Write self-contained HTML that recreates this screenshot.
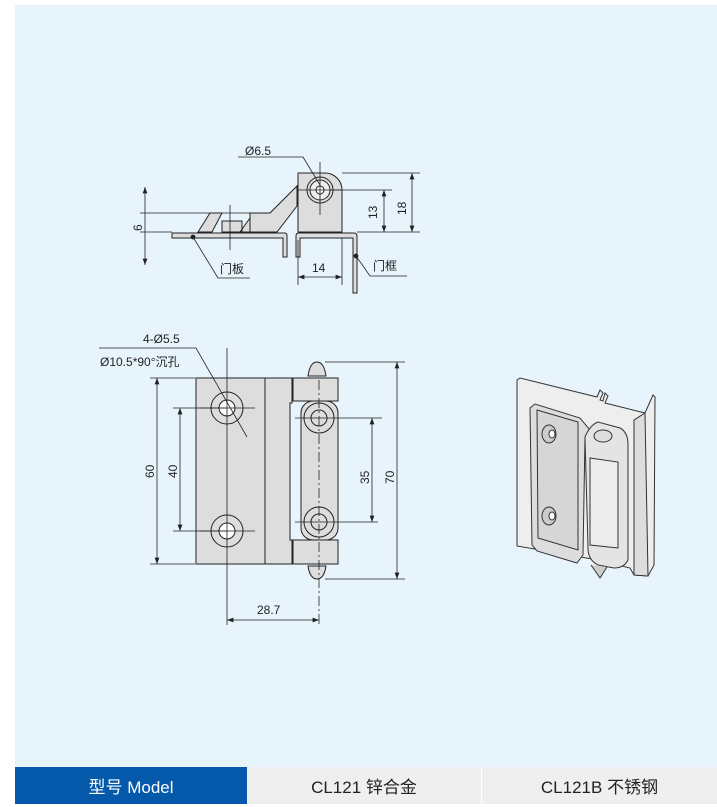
<!DOCTYPE html>
<html><head><meta charset="utf-8"><style>
body{margin:0;width:717px;height:807px;background:#fff;overflow:hidden;font-family:"Liberation Sans","Noto Sans CJK SC",sans-serif}
.bg{position:absolute;left:15px;top:5px;width:702px;height:762px;background:#e8f4fc}
.row{position:absolute;top:767px;height:37px;display:flex;align-items:center;justify-content:center;font-size:17px}
svg{position:absolute;left:0;top:0}
</style></head><body>
<div class="bg"></div>
<svg width="717" height="807" viewBox="0 0 717 807" font-family="Liberation Sans, Noto Sans CJK SC, sans-serif" font-size="12">
<defs><marker id="a" markerWidth="8" markerHeight="6" refX="8" refY="3" orient="auto-start-reverse"><path d="M0,0 L8,3 L0,6z" fill="#222"/></marker></defs>
<g stroke="#222" stroke-width="1" fill="#ddd">
<path d="M172,233 H285 Q287,233 287,236 V257 H283 V238 H172z"/>
<path d="M296,257 V236 Q296,233 299,233 H354 Q357,233 357,236 V293 H353 V238 H300 V257z"/>
<path d="M298,232 V173 H325 A17,17 0 0 1 342,190 V232z"/>
<path d="M270,213 L297,186 V206 L277,232 H250 V213z"/>
<path d="M198,232 L210,213 H222 L212,232z M222,221 H242 V232 H222z M240,232 L250,218 V232z" />
<circle cx="320" cy="190" r="13" fill="#ddd"/><circle cx="320" cy="190" r="10" fill="#eee"/><circle cx="320" cy="190" r="4" fill="#fff"/>
</g>
<g stroke="#222" stroke-width="0.8" fill="none">
<path d="M320,162 V215 M297,190 H343 M230,205 V250"/>
<path d="M145,187 V265" marker-start="url(#a)" marker-end="url(#a)"/>
<path d="M140,213 H260 M140,232 H172"/>
<path d="M342,173 H420 M330,190 H392 M357,232 H420"/>
<path d="M384,190 V232" marker-start="url(#a)" marker-end="url(#a)"/>
<path d="M412,173 V232" marker-start="url(#a)" marker-end="url(#a)"/>
<path d="M298,240 V285 M342,238 V285"/>
<path d="M298,277 H342" marker-start="url(#a)" marker-end="url(#a)"/>
<path d="M238,157 H303 L320,185"/>
<path d="M193,237 L218,278 H250 M356,256 L370,276 H407"/>
<circle cx="193" cy="237" r="2" fill="#222"/><circle cx="356" cy="256" r="2" fill="#222"/>
</g>
<g fill="#222">
<text x="245" y="155">Ø6.5</text>
<text x="220" y="273">门板</text>
<text x="373" y="270">门框</text>
<text x="312" y="272">14</text>
<text transform="translate(377,219) rotate(-90)">13</text>
<text transform="translate(406,215) rotate(-90)">18</text>
<text transform="translate(142,231) rotate(-90)">6</text>
</g>
<g stroke="#222" stroke-width="1" fill="#ddd">
<rect x="196" y="378" width="69" height="186"/>
<path d="M265,378 H292 V403 H290 V540 H292 V564 H265z"/>
<rect x="301" y="401" width="37" height="139" rx="12"/>
<path d="M293,378 H338 V401 H293z M293,540 H338 V564 H293z"/>
<path d="M308,376 Q310,362 317,362 Q324,362 326,376z M308,566 Q310,579 317,579 Q324,579 326,566z"/>
<circle cx="227" cy="408" r="16"/><circle cx="227" cy="408" r="8" fill="#fff"/>
<circle cx="227" cy="531" r="16"/><circle cx="227" cy="531" r="8" fill="#fff"/>
<circle cx="319" cy="418" r="15"/><circle cx="319" cy="418" r="8" fill="#ddd"/>
<circle cx="319" cy="522" r="15"/><circle cx="319" cy="522" r="8" fill="#ddd"/>
</g>
<g stroke="#222" stroke-width="0.8" fill="none">
<path d="M227,348 V625 M200,408 H255 M200,531 H255"/>
<path d="M319,380 V625" stroke-dasharray="10,3,2,3"/>
<path d="M295,418 H382 M295,522 H378"/>
<path d="M150,378 H195 M150,564 H195 M173,408 H227 M173,531 H227 M325,362 H405 M325,579 H405"/>
<path d="M157,378 V564" marker-start="url(#a)" marker-end="url(#a)"/>
<path d="M180,408 V531" marker-start="url(#a)" marker-end="url(#a)"/>
<path d="M372,418 V522" marker-start="url(#a)" marker-end="url(#a)"/>
<path d="M397,362 V579" marker-start="url(#a)" marker-end="url(#a)"/>
<path d="M227,620 H319" marker-start="url(#a)" marker-end="url(#a)"/>
<path d="M99,348 H196 L247,437"/>
</g>
<g fill="#222">
<text x="143" y="343">4-Ø5.5</text>
<text x="100" y="366">Ø10.5*90°沉孔</text>
<text transform="translate(154,478) rotate(-90)">60</text>
<text transform="translate(177,478) rotate(-90)">40</text>
<text transform="translate(369,484) rotate(-90)">35</text>
<text transform="translate(394,484) rotate(-90)">70</text>
<text x="257" y="614">28.7</text>
</g>
<g stroke="#333" stroke-width="1" fill="#eee">
<path d="M517,380 L520,378 L597,397 L600,390 L603,393 L600,400 L603,401 L605,393 L608,396 L605,403 L645,413 L653,395 L655,397 L654,565 L648,576 L634,575 L630,568 L598,560 L517,546z"/>
<path d="M634,420 L645,413 L648,576 L634,575z" fill="#ddd"/>
<path d="M530,408 L535,404 L580,418 L590,430 L585,437 L583,555 L577,563 L537,551 L532,545z" fill="#ddd"/>
<path d="M537,410 L578,422 L578,550 L538,538z" fill="#d6d6d6"/>
<path d="M585,437 Q590,425 598,422 L620,428 Q628,432 628,445 L628,560 Q624,568 614,568 L598,565 Q588,560 588,548z" fill="#e4e4e4"/>
<path d="M590,458 L618,462 L618,548 L590,545z" fill="#ececec"/>
<ellipse cx="603" cy="436" rx="9" ry="6" fill="#ddd"/>
<path d="M591,565 L600,578 L607,567" fill="#ccc"/>
<ellipse cx="549" cy="434" rx="7" ry="9" fill="#ccc"/><ellipse cx="552" cy="434" rx="3" ry="4" fill="#fff"/>
<ellipse cx="549" cy="516" rx="7" ry="9" fill="#ccc"/><ellipse cx="552" cy="516" rx="3" ry="4" fill="#fff"/>
</g>
</svg>
<div class="row" style="left:15px;width:232px;background:#0459aa;color:#fff">型号 Model</div>
<div class="row" style="left:247px;width:234px;background:#efefef;color:#222">CL121 锌合金</div>
<div class="row" style="left:482px;width:235px;background:#efefef;color:#222">CL121B 不锈钢</div>
</body></html>
